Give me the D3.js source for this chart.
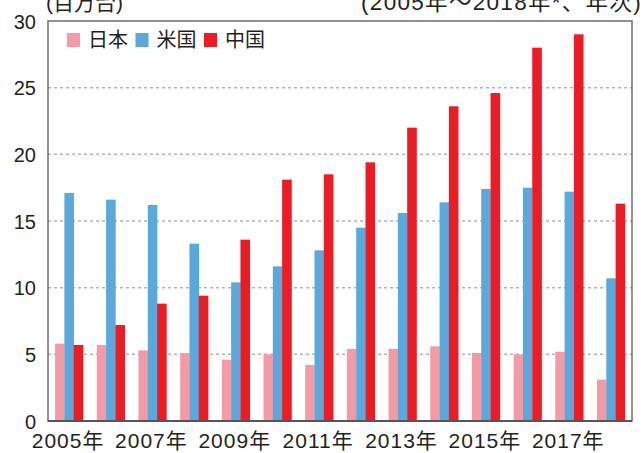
<!DOCTYPE html>
<html>
<head>
<meta charset="utf-8">
<script src="https://cdn.jsdelivr.net/npm/d3@7"></script>
<style>
body { margin: 0; background: #fff; }
text { font-family: "Liberation Sans", "Noto Sans CJK JP", sans-serif; fill: #231f20; }
</style>
</head>
<body>
<div id="chart"></div>
<script>
// data (millions of units)
var years = ["2005","2006","2007","2008","2009","2010","2011","2012","2013","2014","2015","2016","2017","2018"];
var japan = [5.8, 5.7, 5.3, 5.1, 4.6, 5.0, 4.2, 5.4, 5.4, 5.6, 5.1, 5.0, 5.2, 3.1];
var usa   = [17.1, 16.6, 16.2, 13.3, 10.4, 11.6, 12.8, 14.5, 15.6, 16.4, 17.4, 17.5, 17.2, 10.7];
var china = [5.7, 7.2, 8.8, 9.4, 13.6, 18.1, 18.5, 19.4, 22.0, 23.6, 24.6, 28.0, 29.0, 16.3];
var seriesNames = ["日本", "米国", "中国"];
var colors = ["#f59aa5", "#5aa9dc", "#ed1c24"];
var yTicks = [0, 5, 10, 15, 20, 25, 30];
var xLabelYears = ["2005","2007","2009","2011","2013","2015","2017"];

var W = 644, H = 453;
var margin = {top: 21, right: 12, bottom: 32, left: 48};
var width = W - margin.left - margin.right,
    height = H - margin.top - margin.bottom;

var svg = d3.select("#chart").append("svg")
    .attr("width", W)
    .attr("height", H);
var g = svg.append("g")
    .attr("transform", "translate(" + margin.left + "," + margin.top + ")");

var x = d3.scaleBand().domain(years).range([0, width]).paddingInner(0.33).paddingOuter(0.17);
var xs = d3.scaleBand().domain([0, 1, 2]).range([0, x.bandwidth()]);
var y = d3.scaleLinear().domain([0, 30]).range([height, 0]);

// dashed grid
g.selectAll("line.grid")
    .data(yTicks.filter(function(d) { return d > 0 && d < 30; }))
  .enter().append("line")
    .attr("x1", 0).attr("x2", width)
    .attr("y1", function(d) { return y(d); })
    .attr("y2", function(d) { return y(d); })
    .attr("stroke", "#b3b3b3")
    .attr("stroke-width", 1.5)
    .attr("stroke-dasharray", "3,3");

// bars
var data = years.map(function(yr, i) { return {year: yr, vals: [japan[i], usa[i], china[i]]}; });
var groups = g.selectAll("g.yr")
    .data(data)
  .enter().append("g")
    .attr("transform", function(d) { return "translate(" + x(d.year) + ",0)"; });
groups.selectAll("rect")
    .data(function(d) { return d.vals; })
  .enter().append("rect")
    .attr("x", function(d, i) { return xs(i); })
    .attr("width", xs.bandwidth() + 0.3)
    .attr("y", function(d) { return y(d); })
    .attr("height", function(d) { return height - y(d); })
    .attr("fill", function(d, i) { return colors[i]; });

// frame
g.append("rect")
    .attr("width", width).attr("height", height)
    .attr("fill", "none")
    .attr("stroke", "#6d6d6d")
    .attr("stroke-width", 1.5);
g.append("line")
    .attr("x1", 0).attr("x2", width)
    .attr("y1", height).attr("y2", height)
    .attr("stroke", "#555").attr("stroke-width", 2);

// y axis labels
var yAxis = d3.axisLeft(y).tickValues(yTicks).tickSize(0).tickPadding(12);
var ya = g.append("g").call(yAxis);
ya.select(".domain").remove();
ya.selectAll("text")
    .style("font-size", "20px")
    .attr("fill", "#231f20")
    .attr("dy", "0.36em");

// x axis labels (every other year)
g.selectAll("text.xl")
    .data(xLabelYears)
  .enter().append("text")
    .attr("x", function(d) { return x(d) + x.bandwidth() / 2 - 1; })
    .attr("y", height + 27)
    .attr("text-anchor", "middle")
    .style("font-size", "21px")
    .style("letter-spacing", "1px")
    .text(function(d) { return d + "年"; });

// unit and period (cut at the top edge, as in the source)
svg.append("text")
    .attr("x", 46).attr("y", 10)
    .style("font-size", "21px")
    .text("(百万台)");
svg.append("text")
    .attr("x", 642).attr("y", 10)
    .attr("text-anchor", "end")
    .style("font-size", "22.5px")
    .style("letter-spacing", "1.3px")
    .text("(2005年～2018年*、年次)");

// legend
var legend = g.selectAll("g.leg")
    .data(seriesNames)
  .enter().append("g")
    .attr("transform", function(d, i) { return "translate(" + (19 + i * 68.5) + ",12)"; });
legend.append("rect")
    .attr("width", 13).attr("height", 14)
    .attr("fill", function(d, i) { return colors[i]; });
legend.append("text")
    .attr("x", 21).attr("y", 14)
    .style("font-size", "20px")
    .text(function(d) { return d; });
</script>
</body>
</html>
